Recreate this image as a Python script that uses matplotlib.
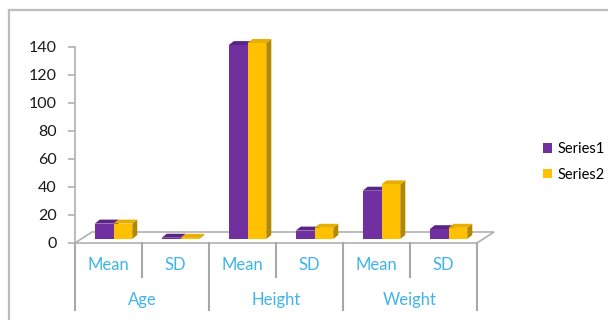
import matplotlib
matplotlib.use('Agg')
import matplotlib.pyplot as plt
from matplotlib.patches import Polygon, Rectangle
from matplotlib.lines import Line2D

# values
groups = ['Age', 'Height', 'Weight']
stats = ['Mean', 'SD', 'Mean', 'SD', 'Mean', 'SD']
series1 = [11, 0.9, 138.5, 6, 34.5, 7]
series2 = [11, 0.8, 140, 8, 39, 8]
yticks = [0, 20, 40, 60, 80, 100, 120, 140]

front_cols = ['#7030A0', '#FFC000']
top_cols = ['#5A2388', '#E8AE00']
side_cols = ['#4A1C6E', '#B38700']
label_blue = '#3FB4E8'
grid_gray = '#B0B0B0'

plt.rcParams['font.family'] = ['Lato', 'DejaVu Sans']

W, H = 608, 320
fig = plt.figure(figsize=(W / 100, H / 100), dpi=100)

# axes placed in pixels: x 75..477, y 47..243
x0, x1, y0, y1 = 75, 477, 47, 243
ax = fig.add_axes([x0 / W, 1 - y1 / H, (x1 - x0) / W, (y1 - y0) / H])
n = len(stats)
ax.set_xlim(0, n)
ax.set_ylim(0, yticks[-1])
ux = n / (x1 - x0)          # data units per pixel
uy = yticks[-1] / (y1 - y0)

# outer chart frame
fig.add_artist(Line2D([9 / W, 9 / W], [0, 1 - 10 / H], color='#BDBDBD', lw=1.6))
fig.add_artist(Line2D([9 / W, 1], [1 - 10 / H, 1 - 10 / H], color='#BDBDBD', lw=1.6))

# floor
fdx, fdy = 17 * ux, 11 * uy
floor = Polygon([(0, 0), (n, 0), (n + fdx, fdy), (fdx, fdy)], closed=True,
                facecolor='white', edgecolor=grid_gray, lw=1.2, clip_on=False, zorder=1)
ax.add_patch(floor)

# bars (pseudo 3D)
bw = 0.28
left_off = 0.295
base = 4 * uy
sdx, sdy = 5 * ux, 4 * uy
for s, vals in enumerate([series1, series2]):
    for i, v in enumerate(vals):
        xl = i + left_off + s * bw
        xr = xl + bw
        top = base + v
        side = Polygon([(xr, base), (xr + sdx, base + sdy), (xr + sdx, top + sdy), (xr, top)],
                       closed=True, facecolor=side_cols[s], edgecolor='none', clip_on=False, zorder=3)
        topf = Polygon([(xl, top), (xl + sdx, top + sdy), (xr + sdx, top + sdy), (xr, top)],
                       closed=True, facecolor=top_cols[s], edgecolor='none', clip_on=False, zorder=3)
        ax.add_patch(side)
        ax.add_patch(topf)
        ax.add_patch(Rectangle((xl, base), bw, v, facecolor=front_cols[s], edgecolor='none',
                               clip_on=False, zorder=3))

# category separators and labels below the floor
for k in range(n + 1):
    depth = 67 if k % 2 == 0 else 34
    ax.plot([k, k], [0, -depth * uy], color='#A8A8A8', lw=1.5, clip_on=False, zorder=1)
for i, s in enumerate(stats):
    ax.text(i + 0.5, -22 * uy, s, ha='center', va='center', fontsize=12, color=label_blue)
for j, g in enumerate(groups):
    ax.text(2 * j + 1, -57 * uy, g, ha='center', va='center', fontsize=12, color=label_blue)

# y axis
for sp in ['top', 'right', 'bottom']:
    ax.spines[sp].set_visible(False)
ax.spines['left'].set_color(grid_gray)
ax.spines['left'].set_linewidth(1.2)
ax.set_yticks(yticks)
ax.set_xticks([])
ax.tick_params(axis='y', length=5, width=1.2, color=grid_gray, pad=8, labelsize=11.5,
               labelcolor='#1a1a1a')
ax.patch.set_visible(False)

# legend
handles = [Rectangle((0, 0), 1, 1, facecolor=c, edgecolor='none') for c in front_cols]
fig.legend(handles, ['Series1', 'Series2'], loc='center left',
           bbox_to_anchor=(530 / W, 1 - 162 / H), frameon=False, fontsize=10.5,
           handlelength=0.6, handleheight=0.6, handletextpad=0.4, labelspacing=0.8)

fig.savefig('out.png', dpi=100)
